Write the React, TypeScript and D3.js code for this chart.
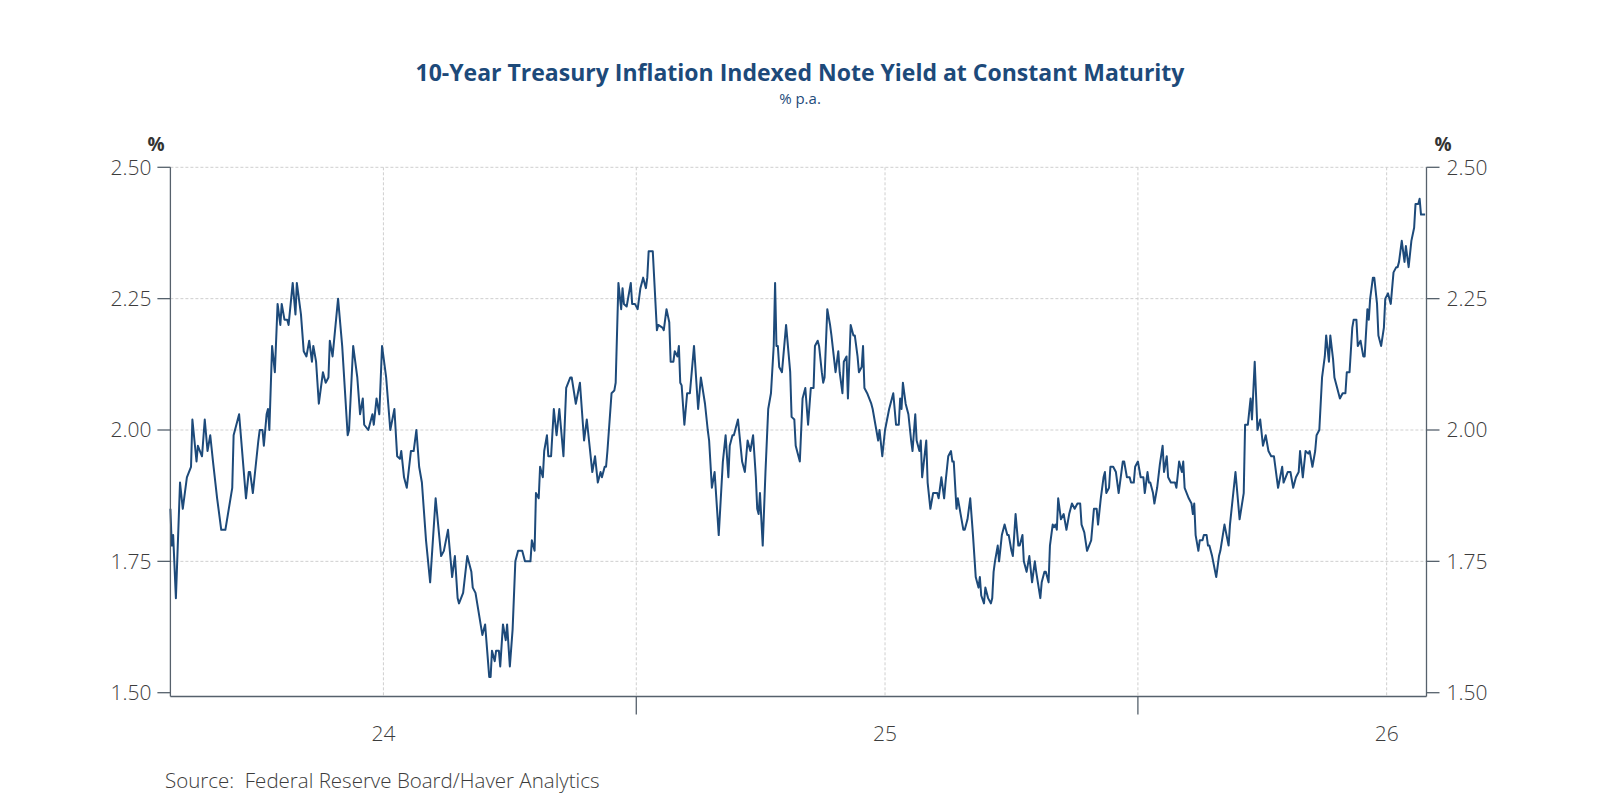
import React, { useRef, useEffect } from "react";
import * as d3 from "d3";

// 10-year TIPS yield at constant maturity, % p.a. — [month-day, value] by year
const obs2024: [string, number][] = [
  ["01-28", 1.85], ["01-29", 1.78], ["01-30", 1.8], ["02-01", 1.68], ["02-04", 1.9], ["02-06", 1.85],
  ["02-09", 1.91], ["02-12", 1.93], ["02-13", 2.02], ["02-16", 1.94], ["02-17", 1.97], ["02-20", 1.95],
  ["02-22", 2.02], ["02-24", 1.96], ["02-26", 1.99], ["02-28", 1.94], ["03-02", 1.87], ["03-05", 1.81],
  ["03-08", 1.81], ["03-13", 1.89], ["03-14", 1.99], ["03-18", 2.03], ["03-23", 1.87], ["03-25", 1.92],
  ["03-26", 1.92], ["03-28", 1.88], ["04-01", 1.98], ["04-02", 2.0], ["04-04", 2.0], ["04-05", 1.97],
  ["04-07", 2.03], ["04-08", 2.04], ["04-09", 2.0], ["04-11", 2.16], ["04-13", 2.11], ["04-15", 2.24],
  ["04-17", 2.2], ["04-18", 2.24], ["04-20", 2.21], ["04-22", 2.21], ["04-23", 2.2], ["04-26", 2.28],
  ["04-28", 2.22], ["04-29", 2.28], ["05-02", 2.22], ["05-04", 2.15], ["05-06", 2.14], ["05-08", 2.17],
  ["05-10", 2.13], ["05-11", 2.16], ["05-13", 2.13], ["05-15", 2.05], ["05-18", 2.11], ["05-20", 2.09],
  ["05-22", 2.1], ["05-23", 2.17], ["05-25", 2.14], ["05-29", 2.25], ["06-01", 2.16], ["06-05", 1.99],
  ["06-06", 2.0], ["06-09", 2.16], ["06-12", 2.1], ["06-14", 2.03], ["06-16", 2.06], ["06-17", 2.01],
  ["06-20", 2.0], ["06-23", 2.03], ["06-24", 2.01], ["06-26", 2.06], ["06-28", 2.03], ["06-30", 2.16],
  ["07-03", 2.1], ["07-06", 2.0], ["07-09", 2.04], ["07-11", 1.95], ["07-13", 1.945], ["07-14", 1.96],
  ["07-16", 1.91], ["07-18", 1.89], ["07-21", 1.96], ["07-23", 1.96], ["07-25", 2.0], ["07-27", 1.93],
  ["07-29", 1.9], ["08-01", 1.79], ["08-04", 1.71], ["08-08", 1.87], ["08-12", 1.76], ["08-14", 1.77],
  ["08-17", 1.81], ["08-20", 1.72], ["08-22", 1.76], ["08-24", 1.68], ["08-25", 1.67], ["08-28", 1.69],
  ["08-31", 1.76], ["09-03", 1.73], ["09-04", 1.7], ["09-06", 1.69], ["09-11", 1.61], ["09-13", 1.63],
  ["09-16", 1.53], ["09-17", 1.53], ["09-18", 1.58], ["09-20", 1.56], ["09-21", 1.58], ["09-23", 1.58],
  ["09-24", 1.55], ["09-26", 1.63], ["09-28", 1.6], ["09-29", 1.63], ["10-01", 1.55], ["10-03", 1.62],
  ["10-05", 1.75], ["10-07", 1.77], ["10-08", 1.77], ["10-10", 1.77], ["10-12", 1.75], ["10-16", 1.75],
  ["10-17", 1.79], ["10-19", 1.77], ["10-20", 1.88], ["10-22", 1.87], ["10-23", 1.93], ["10-25", 1.91],
  ["10-26", 1.96], ["10-28", 1.99], ["10-29", 1.95], ["10-31", 1.95], ["11-02", 2.04], ["11-04", 1.99],
  ["11-06", 2.04], ["11-09", 1.95], ["11-11", 2.08], ["11-14", 2.1], ["11-15", 2.1], ["11-18", 2.05],
  ["11-21", 2.09], ["11-24", 1.98], ["11-26", 2.02], ["11-28", 1.97], ["11-30", 1.92], ["12-02", 1.95],
  ["12-04", 1.9], ["12-06", 1.92], ["12-07", 1.91], ["12-09", 1.93], ["12-10", 1.93], ["12-11", 1.96],
  ["12-14", 2.07], ["12-16", 2.075], ["12-17", 2.09], ["12-19", 2.28], ["12-21", 2.23], ["12-22", 2.27],
  ["12-23", 2.24], ["12-25", 2.235], ["12-28", 2.28], ["12-29", 2.24], ["12-31", 2.24],
];

const obs2025: [string, number][] = [
  ["01-02", 2.23], ["01-04", 2.27], ["01-06", 2.29], ["01-08", 2.27], ["01-09", 2.29], ["01-10", 2.34],
  ["01-13", 2.34], ["01-16", 2.19], ["01-17", 2.2], ["01-20", 2.195], ["01-21", 2.19], ["01-23", 2.23],
  ["01-25", 2.205], ["01-26", 2.13], ["01-28", 2.13], ["01-29", 2.15], ["01-31", 2.14], ["02-01", 2.16],
  ["02-02", 2.09], ["02-03", 2.085], ["02-05", 2.01], ["02-07", 2.07], ["02-09", 2.07], ["02-12", 2.16],
  ["02-15", 2.04], ["02-17", 2.1], ["02-20", 2.05], ["02-22", 2.0], ["02-23", 1.98], ["02-25", 1.89],
  ["02-27", 1.92], ["03-02", 1.8], ["03-05", 1.94], ["03-07", 1.99], ["03-09", 1.91], ["03-10", 1.97],
  ["03-12", 1.99], ["03-13", 1.99], ["03-16", 2.02], ["03-19", 1.94], ["03-21", 1.92], ["03-23", 1.98],
  ["03-25", 1.96], ["03-27", 1.99], ["03-29", 1.91], ["03-30", 1.85], ["03-31", 1.84], ["04-01", 1.88],
  ["04-03", 1.78], ["04-05", 1.92], ["04-07", 2.04], ["04-09", 2.07], ["04-11", 2.16], ["04-12", 2.28],
  ["04-13", 2.16], ["04-14", 2.16], ["04-15", 2.12], ["04-17", 2.11], ["04-20", 2.2], ["04-23", 2.11],
  ["04-24", 2.025], ["04-26", 2.02], ["04-27", 1.97], ["04-30", 1.94], ["05-02", 2.06], ["05-04", 2.08],
  ["05-06", 2.01], ["05-08", 2.08], ["05-10", 2.08], ["05-11", 2.16], ["05-13", 2.17], ["05-14", 2.16],
  ["05-16", 2.11], ["05-17", 2.09], ["05-18", 2.1], ["05-20", 2.23], ["05-22", 2.2], ["05-23", 2.18],
  ["05-26", 2.11], ["05-28", 2.15], ["05-29", 2.11], ["05-31", 2.07], ["06-01", 2.13], ["06-03", 2.14],
  ["06-04", 2.06], ["06-06", 2.2], ["06-08", 2.18], ["06-09", 2.18], ["06-11", 2.14], ["06-12", 2.11],
  ["06-14", 2.12], ["06-15", 2.16], ["06-16", 2.08], ["06-18", 2.07], ["06-21", 2.05], ["06-22", 2.04],
  ["06-24", 2.01], ["06-26", 1.98], ["06-27", 2.0], ["06-29", 1.95], ["07-01", 2.0], ["07-04", 2.04],
  ["07-07", 2.07], ["07-09", 2.01], ["07-11", 2.01], ["07-12", 2.06], ["07-13", 2.04], ["07-14", 2.09],
  ["07-16", 2.05], ["07-18", 2.03], ["07-20", 1.98], ["07-21", 1.96], ["07-23", 2.03], ["07-24", 1.98],
  ["07-26", 1.96], ["07-27", 1.98], ["07-28", 1.91], ["07-31", 1.98], ["08-01", 1.9], ["08-03", 1.85],
  ["08-05", 1.88], ["08-08", 1.88], ["08-09", 1.87], ["08-11", 1.91], ["08-13", 1.87], ["08-14", 1.9],
  ["08-16", 1.95], ["08-18", 1.96], ["08-19", 1.94], ["08-20", 1.94], ["08-22", 1.85], ["08-23", 1.87],
  ["08-25", 1.84], ["08-27", 1.81], ["08-28", 1.81], ["08-30", 1.83], ["09-01", 1.87], ["09-03", 1.8],
  ["09-05", 1.72], ["09-07", 1.7], ["09-08", 1.72], ["09-09", 1.685], ["09-11", 1.67], ["09-12", 1.7],
  ["09-14", 1.68], ["09-16", 1.67], ["09-17", 1.68], ["09-18", 1.73], ["09-19", 1.75], ["09-21", 1.78],
  ["09-22", 1.75], ["09-24", 1.8], ["09-26", 1.82], ["09-28", 1.8], ["09-29", 1.8], ["10-01", 1.77],
  ["10-02", 1.76], ["10-04", 1.84], ["10-06", 1.78], ["10-07", 1.78], ["10-09", 1.8], ["10-10", 1.75],
  ["10-12", 1.73], ["10-14", 1.76], ["10-16", 1.71], ["10-18", 1.75], ["10-19", 1.73], ["10-22", 1.68],
  ["10-23", 1.71], ["10-25", 1.73], ["10-26", 1.73], ["10-28", 1.71], ["10-29", 1.78], ["10-31", 1.82],
  ["11-01", 1.815], ["11-02", 1.82], ["11-03", 1.81], ["11-04", 1.87], ["11-06", 1.83], ["11-08", 1.84],
  ["11-10", 1.81], ["11-12", 1.84], ["11-14", 1.86], ["11-16", 1.85], ["11-18", 1.86], ["11-20", 1.86],
  ["11-21", 1.82], ["11-23", 1.805], ["11-25", 1.77], ["11-28", 1.79], ["11-30", 1.85], ["12-02", 1.85],
  ["12-03", 1.82], ["12-05", 1.87], ["12-07", 1.91], ["12-08", 1.92], ["12-09", 1.88], ["12-11", 1.89],
  ["12-12", 1.93], ["12-14", 1.93], ["12-16", 1.92], ["12-18", 1.88], ["12-20", 1.92], ["12-21", 1.94],
  ["12-22", 1.94], ["12-24", 1.91], ["12-26", 1.91], ["12-27", 1.9], ["12-29", 1.9], ["12-30", 1.93],
];

const obs2026: [string, number][] = [
  ["01-01", 1.94], ["01-03", 1.91], ["01-05", 1.91], ["01-06", 1.88], ["01-08", 1.92], ["01-09", 1.9],
  ["01-10", 1.9], ["01-12", 1.88], ["01-13", 1.86], ["01-15", 1.89], ["01-17", 1.935], ["01-19", 1.97],
  ["01-20", 1.92], ["01-22", 1.95], ["01-23", 1.91], ["01-25", 1.9], ["01-27", 1.9], ["01-28", 1.9],
  ["01-29", 1.89], ["01-31", 1.94], ["02-02", 1.92], ["02-03", 1.94], ["02-04", 1.89], ["02-07", 1.87],
  ["02-09", 1.86], ["02-10", 1.84], ["02-11", 1.86], ["02-12", 1.8], ["02-14", 1.77], ["02-15", 1.79],
  ["02-17", 1.79], ["02-18", 1.8], ["02-20", 1.8], ["02-21", 1.78], ["02-22", 1.78], ["02-24", 1.76],
  ["02-27", 1.72], ["03-01", 1.76], ["03-02", 1.77], ["03-05", 1.82], ["03-08", 1.78], ["03-09", 1.82],
  ["03-13", 1.92], ["03-16", 1.83], ["03-19", 1.88], ["03-20", 2.01], ["03-22", 2.01], ["03-24", 2.06],
  ["03-25", 2.02], ["03-27", 2.13], ["03-29", 2.0], ["03-31", 2.02], ["04-02", 1.97], ["04-04", 1.99],
  ["04-06", 1.96], ["04-08", 1.95], ["04-10", 1.95], ["04-13", 1.89], ["04-16", 1.93], ["04-17", 1.9],
  ["04-20", 1.92], ["04-22", 1.92], ["04-24", 1.89], ["04-26", 1.91], ["04-28", 1.92], ["04-29", 1.96],
  ["05-01", 1.91], ["05-03", 1.96], ["05-05", 1.955], ["05-06", 1.96], ["05-08", 1.93], ["05-10", 1.96],
  ["05-11", 1.99], ["05-13", 2.0], ["05-15", 2.1], ["05-17", 2.14], ["05-18", 2.18], ["05-20", 2.13],
  ["05-21", 2.18], ["05-23", 2.135], ["05-24", 2.1], ["05-26", 2.08], ["05-28", 2.06], ["05-30", 2.07],
  ["06-01", 2.07], ["06-02", 2.11], ["06-04", 2.11], ["06-06", 2.195], ["06-07", 2.21], ["06-09", 2.21],
  ["06-10", 2.16], ["06-12", 2.17], ["06-14", 2.14], ["06-15", 2.14], ["06-17", 2.23], ["06-18", 2.21],
  ["06-19", 2.25], ["06-21", 2.29], ["06-22", 2.29], ["06-24", 2.24], ["06-25", 2.18], ["06-27", 2.16],
  ["06-29", 2.195], ["06-30", 2.25], ["07-02", 2.26], ["07-04", 2.24], ["07-06", 2.3], ["07-08", 2.31],
  ["07-09", 2.31], ["07-10", 2.32], ["07-12", 2.36], ["07-14", 2.32], ["07-15", 2.35], ["07-17", 2.31],
  ["07-19", 2.36], ["07-21", 2.385], ["07-22", 2.43], ["07-24", 2.43], ["07-25", 2.44], ["07-26", 2.41],
  ["07-29", 2.41],
];

const yTicks = [1.5, 1.75, 2.0, 2.25, 2.5];
const yearLabels = ["24", "25", "26"];

const title = "10-Year Treasury Inflation Indexed Note Yield at Constant Maturity";
const subtitle = "% p.a.";
const source = "Source:  Federal Reserve Board/Haver Analytics";

const W = 1600;
const H = 800;
const left = 170.4;
const right = 1426.5;
const top = 167.3;
const bottom = 692.7;
const axisY = 696.5;

const navy = "#1d4a7a";
const axisColor = "#56616c";
const font = "'Open Sans', 'Noto Sans', sans-serif";

const App = () => {
  const svgRef = useRef(null);

  useEffect(() => {
    const svg = d3.select(svgRef.current);
    svg.selectAll("*").remove();

    const parse = d3.timeParse("%Y-%m-%d");
    const series = [
      ...obs2024.map(([d, v]) => ({ date: parse(`2024-${d}`), value: v })),
      ...obs2025.map(([d, v]) => ({ date: parse(`2025-${d}`), value: v })),
      ...obs2026.map(([d, v]) => ({ date: parse(`2026-${d}`), value: v })),
    ];

    const x = d3
      .scaleTime()
      .domain([new Date(2024, 0, 28), new Date(2026, 6, 30)])
      .range([left, right]);
    const y = d3.scaleLinear().domain([1.5, 2.5]).range([bottom, top]);

    // grid: horizontal at the value ticks, vertical every half year
    const grid = svg.append("g").attr("stroke", "#cfcfcf").attr("stroke-width", 1).attr("stroke-dasharray", "3,2");
    grid
      .selectAll("line.h")
      .data(yTicks.filter((t) => t > 1.5))
      .enter()
      .append("line")
      .attr("x1", left)
      .attr("x2", right)
      .attr("y1", (d) => y(d))
      .attr("y2", (d) => y(d));

    const halfYears = d3.timeMonth.every(6).range(x.domain()[0], x.domain()[1]);
    grid
      .selectAll("line.v")
      .data(halfYears)
      .enter()
      .append("line")
      .attr("x1", (d) => x(d))
      .attr("x2", (d) => x(d))
      .attr("y1", top)
      .attr("y2", axisY);

    // the series
    const line = d3
      .line()
      .x((d) => x(d.date))
      .y((d) => y(d.value));
    svg
      .append("path")
      .datum(series)
      .attr("fill", "none")
      .attr("stroke", navy)
      .attr("stroke-width", 2)
      .attr("stroke-linejoin", "round")
      .attr("d", line);

    // frame: left, right and bottom axes
    const frame = svg.append("g").attr("stroke", axisColor).attr("stroke-width", 1.3);
    frame.append("line").attr("x1", left).attr("x2", left).attr("y1", top).attr("y2", axisY);
    frame.append("line").attr("x1", right).attr("x2", right).attr("y1", top).attr("y2", axisY);
    frame.append("line").attr("x1", left).attr("x2", right).attr("y1", axisY).attr("y2", axisY);

    // value ticks on both sides
    yTicks.forEach((t) => {
      frame.append("line").attr("x1", left - 13).attr("x2", left).attr("y1", y(t)).attr("y2", y(t));
      frame.append("line").attr("x1", right).attr("x2", right + 13).attr("y1", y(t)).attr("y2", y(t));
    });

    // year boundaries below the axis
    const yearStarts = d3.timeYear.range(x.domain()[0], x.domain()[1]);
    frame
      .selectAll("line.yr")
      .data(yearStarts)
      .enter()
      .append("line")
      .attr("x1", (d) => x(d))
      .attr("x2", (d) => x(d))
      .attr("y1", axisY)
      .attr("y2", axisY + 18);

    const tickText = svg.append("g").attr("font-family", font).attr("font-size", 21).attr("font-weight", 300).attr("fill", "#3c3c3c");
    yTicks.forEach((t) => {
      tickText.append("text").attr("x", left - 19).attr("y", y(t)).attr("dy", "0.35em").attr("text-anchor", "end").text(t.toFixed(2));
      tickText.append("text").attr("x", right + 20).attr("y", y(t)).attr("dy", "0.35em").attr("text-anchor", "start").text(t.toFixed(2));
    });

    // year labels centred on mid-year
    const midYears = halfYears.filter((d) => d.getMonth() === 6);
    tickText
      .selectAll("text.yl")
      .data(midYears)
      .enter()
      .append("text")
      .attr("x", (d) => x(d))
      .attr("y", 741)
      .attr("text-anchor", "middle")
      .text((d, i) => yearLabels[i]);

    // unit markers
    const unit = svg.append("g").attr("font-family", font).attr("font-size", 19).attr("font-weight", 700).attr("fill", "#333");
    unit.append("text").attr("x", 156).attr("y", 151).attr("text-anchor", "middle").text("%");
    unit.append("text").attr("x", 1443).attr("y", 151).attr("text-anchor", "middle").text("%");

    // titles and source
    svg
      .append("text")
      .attr("x", W / 2)
      .attr("y", 81)
      .attr("text-anchor", "middle")
      .attr("font-family", font)
      .attr("font-size", 23)
      .attr("font-weight", 700)
      .attr("fill", navy)
      .text(title);
    svg
      .append("text")
      .attr("x", W / 2)
      .attr("y", 104)
      .attr("text-anchor", "middle")
      .attr("font-family", font)
      .attr("font-size", 15)
      .attr("fill", navy)
      .text(subtitle);
    svg
      .append("text")
      .attr("x", 165)
      .attr("y", 788)
      .attr("font-family", font)
      .attr("font-size", 20.5)
      .attr("font-weight", 300)
      .attr("fill", "#3c3c3c")
      .style("white-space", "pre")
      .text(source);
  }, []);

  return (
    <svg
      ref={svgRef}
      width={W}
      height={H}
      style={{ position: "absolute", left: 0, top: 0, background: "#fff" }}
    ></svg>
  );
};

export default App;
